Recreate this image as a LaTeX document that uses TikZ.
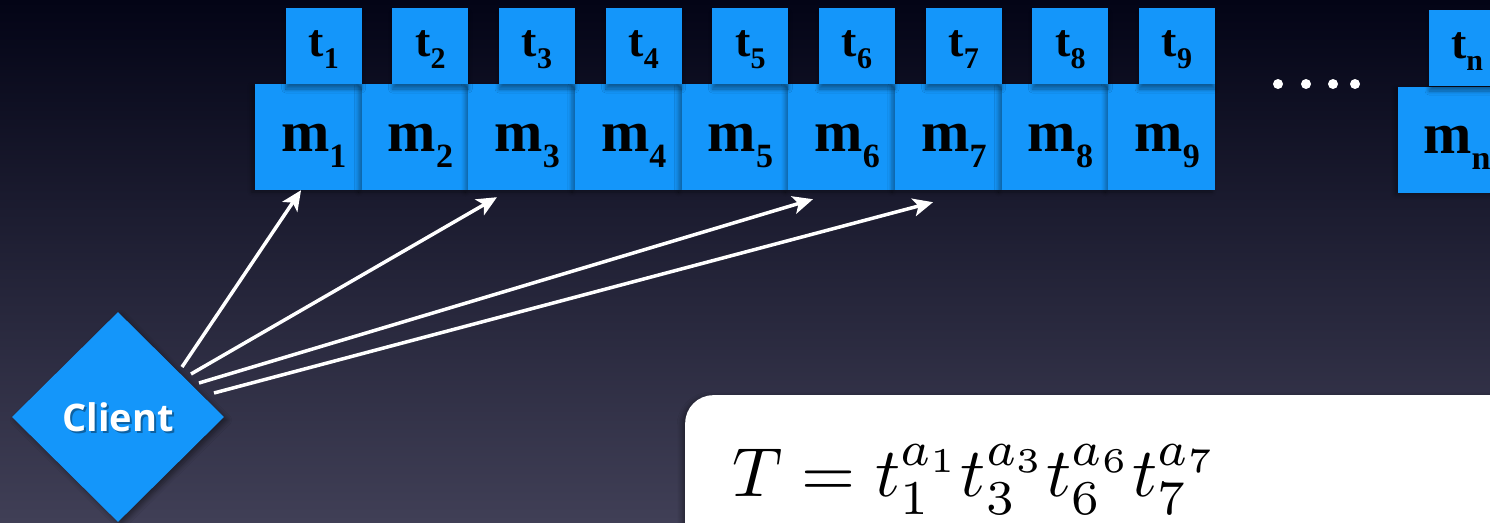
\documentclass[tikz,border=0pt]{standalone}
\usepackage{graphicx}
\usepackage{fontspec}
\newfontfamily\serifbold{Liberation Serif}
\newfontfamily\clientfont{Open Sans}
\usetikzlibrary{shapes.geometric,arrows.meta,shadows.blur}
\definecolor{boxblue}{RGB}{20,150,250}
\definecolor{bgtop}{RGB}{3,4,22}
\definecolor{bgmid}{RGB}{30,31,56}
\definecolor{bgbot}{RGB}{64,63,86}
\newcommand{\mlab}[1]{\hspace*{11pt}{\fontsize{58}{58}\selectfont m}\raisebox{-16pt}{\fontsize{34}{34}\selectfont #1}}
\newcommand{\tlab}[1]{{\fontsize{46}{46}\selectfont t}\raisebox{-12pt}{\fontsize{30}{30}\selectfont #1}}
\tikzset{
  mbox/.style={rectangle, fill=boxblue, minimum width=107pt, minimum height=106pt, inner sep=0pt,
    text height=44pt, text depth=16pt, font=\serifbold\bfseries,
    blur shadow={shadow xshift=-3pt, shadow yshift=-2pt, shadow opacity=35, shadow blur radius=4pt, shadow blur steps=6}},
  tbox/.style={rectangle, fill=boxblue, minimum width=76pt, minimum height=76pt, inner sep=0pt,
    text height=30pt, text depth=10pt, font=\serifbold\bfseries,
    blur shadow={shadow xshift=0pt, shadow yshift=-5pt, shadow opacity=40, shadow blur radius=4pt, shadow blur steps=6}},
  dot/.style={circle, fill=white, minimum size=10pt, inner sep=0pt},
  arr/.style={draw=white, line width=3.5pt, -{Stealth[length=20pt, width=18pt, inset=5pt]}},
}
\begin{document}
\begin{tikzpicture}[x=1pt,y=-1pt]
\useasboundingbox (0,0) rectangle (1490,522);
\fill[top color=bgtop, middle color=bgmid, bottom color=bgbot] (0,0) rectangle (1490,522);
% memory boxes
\foreach \i in {1,...,9} {
  \node[mbox] (m\i) at ({308.33+106.667*(\i-1)},137) {\mlab{\i}};
}
\foreach \i in {1,...,9} {
  \node[tbox] (t\i) at ({323.67+106.667*(\i-1)},46) {\tlab{\i}};
}
\node[mbox] (mn) at (1451.5,139.5) {\mlab{n}};
\node[tbox] (tn) at (1467,48) {\tlab{n}};
% dots
\node[dot] (d1) at (1278,84) {};
\node[dot] (d2) at (1306,84) {};
\node[dot] (d3) at (1333,84) {};
\node[dot] (d4) at (1355,84) {};
% client
\node[diamond, fill=boxblue, minimum width=212pt, minimum height=210pt, inner sep=0pt,
  blur shadow={shadow xshift=3pt, shadow yshift=-3pt, shadow opacity=45, shadow blur radius=5pt, shadow blur steps=6}]
  (client) at (118,417) {};
\node[text=black, opacity=0.35, font=\clientfont\bfseries\fontsize{38}{38}\selectfont] (clientsh) at (120,419) {Client};
\node[text=white, font=\clientfont\bfseries\fontsize{38}{38}\selectfont] (clientlab) at (118,417) {Client};
% arrow ends
\coordinate (s1) at ([xshift=64pt, yshift=50pt]client.center);
\coordinate (s2) at ([xshift=73pt, yshift=43pt]client.center);
\coordinate (s3) at ([xshift=81pt, yshift=34pt]client.center);
\coordinate (s4) at ([xshift=96pt, yshift=24pt]client.center);
\coordinate (e1) at ([xshift=-7.3pt]m1.south);
\coordinate (e2) at ([xshift=-24.7pt, yshift=-7pt]m3.south);
\coordinate (e3) at ([xshift=-28.7pt, yshift=-9pt]m6.south);
\coordinate (e4) at ([xshift=-15.3pt, yshift=-12pt]m7.south);
\draw[arr] (s1) -- (e1);
\draw[arr] (s2) -- (e2);
\draw[arr] (s3) -- (e3);
\draw[arr] (s4) -- (e4);
% formula box
\node[anchor=north west, fill=white, rounded corners=28pt, minimum width=850pt, minimum height=180pt, inner sep=0pt,
  blur shadow={shadow xshift=-3pt, shadow yshift=-2pt, shadow opacity=40, shadow blur radius=5pt, shadow blur steps=6}]
  (fbox) at (685,395) {};
\node[anchor=base west, inner sep=0pt, font=\fontsize{10}{12}\selectfont] (formula) at (732,496)
  {\scalebox{6.95}{$T = t_1^{a_1} t_3^{a_3} t_6^{a_6} t_7^{a_7}$}};
\end{tikzpicture}
\end{document}
